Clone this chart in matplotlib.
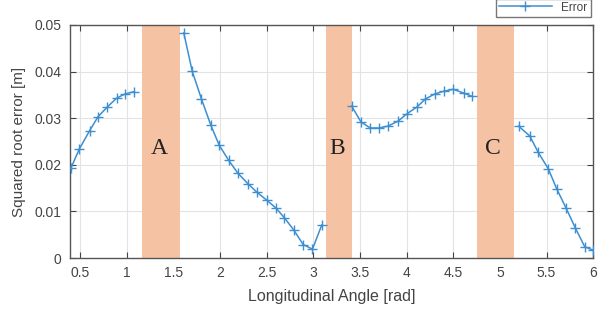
import matplotlib
matplotlib.use("Agg")
import matplotlib.pyplot as plt
import numpy as np

# segments of the error curve (gaps where the regions A, B, C are)
x1 = [0.40, 0.49, 0.60, 0.69, 0.79, 0.89, 0.98, 1.08]
y1 = [0.0193, 0.0234, 0.0273, 0.0303, 0.0324, 0.0343, 0.0352, 0.0357]

x2 = [1.61, 1.70, 1.80, 1.90, 1.99, 2.09, 2.19, 2.30, 2.39, 2.50, 2.60,
      2.69, 2.79, 2.89, 2.99, 3.09]
y2 = [0.0483, 0.0401, 0.0341, 0.0285, 0.0242, 0.0210, 0.0182, 0.0159,
      0.0142, 0.0124, 0.0107, 0.0086, 0.0060, 0.0029, 0.0019, 0.0071]

x3 = [3.41, 3.51, 3.61, 3.70, 3.80, 3.91, 4.00, 4.11, 4.20, 4.30, 4.40,
      4.50, 4.61, 4.70]
y3 = [0.0326, 0.0292, 0.0279, 0.0279, 0.0283, 0.0294, 0.0309, 0.0324,
      0.0341, 0.0352, 0.0358, 0.0362, 0.0354, 0.0347]

x4 = [5.20, 5.32, 5.41, 5.52, 5.61, 5.71, 5.81, 5.91, 6.00]
y4 = [0.0283, 0.0262, 0.0227, 0.0191, 0.0148, 0.0107, 0.0064, 0.0024, 0.0017]

region_names = ["A", "B", "C"]
region_start = [1.16, 3.14, 4.75]
region_end = [1.57, 3.41, 5.15]

line_c = "#3d8fd1"
shade_c = "#f5c3a3"

plt.rcParams["font.family"] = ["Liberation Sans", "DejaVu Sans"]

fig = plt.figure(figsize=(6.02, 3.12), dpi=100)
ax = fig.add_axes([0.1163, 0.173, 0.869, 0.747])

for name, a, b in zip(region_names, region_start, region_end):
    ax.axvspan(a, b, color=shade_c, lw=0, zorder=1)
    ax.text((a + b) / 2 - 0.02, 0.0235, name, ha="center", va="center",
            fontsize=17, family="Liberation Serif", color="#222222", zorder=4)

kw = dict(color=line_c, lw=1.1, marker="+", ms=7, mew=1.0, zorder=3)
ax.plot(x1, y1, label="Error", **kw)
ax.plot(x2, y2, **kw)
ax.plot(x3, y3, **kw)
ax.plot(x4, y4, **kw)

ax.set_xlim(0.39, 6.0)
ax.set_ylim(0, 0.05)
ax.set_xticks(np.arange(0.5, 6.01, 0.5))
ax.set_xticklabels(["0.5", "1", "1.5", "2", "2.5", "3", "3.5", "4", "4.5",
                    "5", "5.5", "6"])
ax.set_yticks(np.arange(0, 0.051, 0.01))
ax.set_yticklabels(["0", "0.01", "0.02", "0.03", "0.04", "0.05"])
ax.grid(True, color="#e3e3e3", lw=0.8, zorder=0)
ax.set_axisbelow(True)
ax.tick_params(direction="in", top=True, right=True, labelsize=10,
               colors="#444444", length=4, width=0.8)
ax.tick_params(axis="x", pad=6)
ax.tick_params(axis="y", pad=6)
for s in ax.spines.values():
    s.set_color("#555555")
    s.set_linewidth(1.0)

ax.set_xlabel("Longitudinal Angle [rad]", fontsize=11.5, color="#444444",
              labelpad=6)
ax.set_ylabel("Squared root error [m]", fontsize=11, color="#444444",
              labelpad=6)

leg = fig.legend(loc="lower right", bbox_to_anchor=(0.981, 0.947),
                 fontsize=8.5, frameon=True, fancybox=False,
                 edgecolor="#555555", handlelength=4.5, borderpad=0.25,
                 borderaxespad=0, labelcolor="#444444")
leg.get_frame().set_linewidth(1.0)

fig.savefig("out.png", dpi=100)
plt.close(fig)
